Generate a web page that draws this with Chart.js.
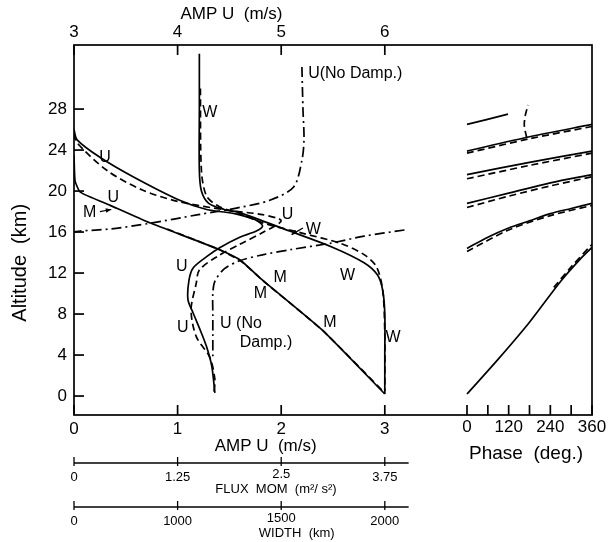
<!DOCTYPE html>
<html>
<head>
<meta charset="utf-8">
<script src="https://cdn.jsdelivr.net/npm/chart.js@4.4.1/dist/chart.umd.min.js"></script>
<style>
  body { margin: 0; background: #fff; }
  canvas { display: block; }
</style>
</head>
<body>
<canvas id="profileChart" width="612" height="542"></canvas>
<script>
// tick values
var altTicks = [0, 4, 8, 12, 16, 20, 24, 28];
var ampTicks = [0, 1, 2, 3];
var ampTopTicks = [3, 4, 5, 6];
var fluxLabels = ["0", "1.25", "2.5", "3.75"];
var widthLabels = ["0", "1000", "1500", "2000"];
var phaseTicks = [0, 60, 120, 180, 240, 300, 360];
var phaseLabels = [0, 120, 240, 360];

// profiles: [position on lower AMP U axis, altitude km]
var uSolid = [[0, 26.0], [0.03, 25.0], [0.25, 23.3], [0.57, 21.4], [1.02, 19.1], [1.28, 18.2], [1.55, 17.8],
  [1.75, 17.2], [1.82, 16.6], [1.76, 16.1], [1.6, 15.5], [1.41, 14.5], [1.28, 13.6], [1.15, 12.5],
  [1.11, 11.3], [1.10, 9.4], [1.15, 8.1], [1.22, 6.4], [1.28, 4.8], [1.33, 2.9], [1.36, 0.3]];
var uDashed = [[0, 25.6], [0.03, 24.7], [0.32, 22.0], [0.66, 20.1], [1.0, 19.0], [1.5, 18.1], [1.82, 17.7],
  [2.0, 17.1], [1.83, 16.0], [1.6, 14.8], [1.38, 13.6], [1.21, 12.3], [1.18, 11.0], [1.13, 8.4],
  [1.18, 5.8], [1.31, 3.8], [1.36, 1.6], [1.35, 0.3]];
var uNoDampTop = [[2.2, 32.1], [2.21, 28], [2.22, 25], [2.2, 23], [2.12, 20.4], [1.89, 19.1], [1.6, 18.4],
  [1.2, 17.7], [0.73, 16.85], [0.35, 16.3], [0.06, 16.1], [0, 16.0]];
var uNoDampLow = [[3.19, 16.2], [2.8, 15.6], [2.47, 14.9], [2.1, 14.3], [1.83, 13.8], [1.6, 13.2],
  [1.45, 12.4], [1.36, 11.2], [1.34, 10.0], [1.34, 8.0], [1.34, 6.0], [1.34, 3.8]];
var wSolid = [[1.21, 33.4], [1.21, 28], [1.21, 22], [1.23, 20], [1.3, 18.8], [1.45, 18.2], [1.6, 17.9],
  [2.08, 16.1], [2.5, 14.5], [2.8, 13.0], [2.93, 11.8], [2.98, 10.3], [3.0, 8], [3.0, 4], [3.0, 0.2]];
var wDashed = [[1.22, 30], [1.23, 22], [1.28, 19.5], [1.4, 18.5], [1.6, 17.8], [1.82, 16.9], [2.2, 15.9],
  [2.57, 14.9], [2.8, 13.8], [2.92, 12.6], [2.98, 10.3], [3.0, 6], [3.0, 0.5]];
var mSolid = [[0, 23.5], [0.01, 21], [0.06, 19.9], [0.35, 18.6], [0.73, 16.9], [1.38, 14.4], [1.6, 13.3],
  [1.82, 11.3], [2.4, 6.4], [3.0, 0.2]];
var mDashed = [[0.9, 16.3], [1.42, 14.2], [1.62, 13.1], [1.83, 11.2], [2.4, 6.4], [3.0, 0.3]];

// phase lines: [phase deg, altitude km]
var phase1 = [[0, 0.2], [90, 3.6], [180, 7.2], [270, 11.2], [330, 13.5], [360, 14.5]];
var phase2 = [[0, 14.4], [60, 15.5], [120, 16.4], [180, 17.1], [240, 17.8], [300, 18.3], [360, 18.8]];
var phase3 = [[0, 18.8], [120, 19.8], [240, 20.8], [360, 21.6]];
var phase4 = [[0, 21.6], [180, 22.8], [360, 23.9]];
var phase5 = [[0, 23.9], [180, 25.3], [360, 26.5]];
var phase6 = [[0, 26.5], [118, 27.5]];
var phase1d = [[250, 10.6], [300, 12.6], [360, 14.8]];
var phase2d = [[0, 14.1], [120, 16.2], [240, 17.6], [360, 18.6]];
var phase3d = [[0, 18.4], [120, 19.5], [240, 20.5], [360, 21.4]];
var phase4d = [[0, 21.2], [180, 22.5], [360, 23.7]];
var phase5d = [[0, 23.7], [180, 25.1], [360, 26.3]];
var phaseKink = [[172, 25.2], [165, 26.4], [168, 27.4], [176, 28.4]];

function pts(arr) {
  return arr.map(function (p) { return { x: p[0], y: p[1] }; });
}

function line(arr, dash, axis, tension) {
  return {
    data: pts(arr),
    xAxisID: axis || "x",
    showLine: true,
    borderColor: "#000",
    borderWidth: 1.7,
    borderDash: dash || [],
    pointRadius: 0,
    tension: tension === undefined ? 0.3 : tension,
    fill: false
  };
}

var DASH = [7, 4];
var DASHDOT = [10, 4, 2, 4];

var curveLabels = [
  ["W", 1.31, 27.7], ["U", 0.30, 23.3], ["U", 0.38, 19.4], ["M", 0.15, 17.9],
  ["U", 2.06, 17.7], ["W", 2.31, 16.2], ["W", 2.64, 11.8], ["M", 1.99, 11.6],
  ["M", 1.80, 10.0], ["M", 2.47, 7.2], ["W", 3.08, 5.7], ["U", 1.04, 12.6], ["U", 1.05, 6.7]
];

var frame = {
  id: "frame",
  afterDraw: function (chart) {
    var c = chart.ctx, a = chart.chartArea;
    var sx = chart.scales.x, sy = chart.scales.y, sp = chart.scales.xp, st = chart.scales.xt;
    c.save();
    c.strokeStyle = "#000";
    c.fillStyle = "#000";
    c.lineWidth = 1.7;
    c.strokeRect(a.left, a.top, a.right - a.left, a.bottom - a.top);

    c.font = "17px 'Liberation Sans', Arial, sans-serif";
    // altitude ticks
    c.textAlign = "right";
    c.textBaseline = "middle";
    altTicks.forEach(function (v) {
      var y = sy.getPixelForValue(v);
      c.beginPath(); c.moveTo(a.left, y); c.lineTo(a.left + 10, y); c.stroke();
      c.fillText(String(v), a.left - 7, y);
    });
    // top amp axis
    c.textAlign = "center";
    ampTopTicks.forEach(function (v) {
      var x = st.getPixelForValue(v);
      c.beginPath(); c.moveTo(x, a.top); c.lineTo(x, a.top + 10); c.stroke();
      c.fillText(String(v), x, a.top - 13);
    });
    c.fillText("AMP U  (m/s)", st.getPixelForValue(4.52), a.top - 31);
    // bottom amp axis
    ampTicks.forEach(function (v) {
      var x = sx.getPixelForValue(v);
      c.beginPath(); c.moveTo(x, a.bottom); c.lineTo(x, a.bottom - 10); c.stroke();
      c.fillText(String(v), x, a.bottom + 14);
    });
    c.fillText("AMP U  (m/s)", sx.getPixelForValue(1.85), a.bottom + 31);
    // phase axis
    phaseTicks.forEach(function (v) {
      var x = sp.getPixelForValue(v);
      c.beginPath(); c.moveTo(x, a.bottom); c.lineTo(x, a.bottom - 10); c.stroke();
    });
    phaseLabels.forEach(function (v) {
      c.fillText(String(v), sp.getPixelForValue(v), a.bottom + 12);
    });
    c.font = "19px 'Liberation Sans', Arial, sans-serif";
    c.fillText("Phase  (deg.)", sp.getPixelForValue(170), a.bottom + 39);

    // altitude title
    c.save();
    c.translate(20, sy.getPixelForValue(13));
    c.rotate(-Math.PI / 2);
    c.font = "20px 'Liberation Sans', Arial, sans-serif";
    c.fillText("Altitude  (km)", 0, 0);
    c.restore();

    // extra lower axes: flux and width
    c.lineWidth = 1.3;
    c.font = "13px 'Liberation Sans', Arial, sans-serif";
    [[48, fluxLabels, "FLUX  MOM  (m\u00b2/ s\u00b2)", 1.95], [92, widthLabels, "WIDTH  (km)", 2.15]].forEach(function (ax) {
      var y = a.bottom + ax[0];
      c.beginPath(); c.moveTo(sx.getPixelForValue(0), y); c.lineTo(sx.getPixelForValue(3.23), y); c.stroke();
      ampTicks.forEach(function (v, i) {
        var x = sx.getPixelForValue(v);
        c.beginPath(); c.moveTo(x, y - 6); c.lineTo(x, y + 3); c.stroke();
        c.fillText(ax[1][i], x, y + (i === 2 ? 11 : 14));
      });
      c.fillText(ax[2], sx.getPixelForValue(ax[3]), y + 26);
    });

    // curve labels
    c.font = "16px 'Liberation Sans', Arial, sans-serif";
    curveLabels.forEach(function (l) {
      c.fillText(l[0], sx.getPixelForValue(l[1]), sy.getPixelForValue(l[2]));
    });
    c.textAlign = "left";
    c.fillText("U(No Damp.)", sx.getPixelForValue(2.26), sy.getPixelForValue(31.5));
    c.fillText("U (No", sx.getPixelForValue(1.41), sy.getPixelForValue(7.1));
    c.fillText("Damp.)", sx.getPixelForValue(1.60), sy.getPixelForValue(5.2));

    // arrows from M and W labels
    c.lineWidth = 1.2;
    [[0.25, 18.0, 0.36, 18.2], [2.21, 16.4, 2.10, 15.75]].forEach(function (ar) {
      var x1 = sx.getPixelForValue(ar[0]), y1 = sy.getPixelForValue(ar[1]);
      var x2 = sx.getPixelForValue(ar[2]), y2 = sy.getPixelForValue(ar[3]);
      var ang = Math.atan2(y2 - y1, x2 - x1);
      c.beginPath(); c.moveTo(x1, y1); c.lineTo(x2, y2); c.stroke();
      c.beginPath();
      c.moveTo(x2, y2);
      c.lineTo(x2 - 6 * Math.cos(ang - 0.4), y2 - 6 * Math.sin(ang - 0.4));
      c.lineTo(x2 - 6 * Math.cos(ang + 0.4), y2 - 6 * Math.sin(ang + 0.4));
      c.closePath(); c.fill();
    });
    c.restore();
  }
};

var ctx = document.getElementById("profileChart").getContext("2d");
var profileChart = new Chart(ctx, {
  type: "scatter",
  data: {
    datasets: [
      line(uSolid), line(uDashed, DASH),
      line(uNoDampTop, DASHDOT), line(uNoDampLow, DASHDOT),
      line(wSolid), line(wDashed, DASH),
      line(mSolid, [], "x", 0.15), line(mDashed, DASH, "x", 0.15),
      line(phase1, [], "xp"), line(phase2, [], "xp"), line(phase3, [], "xp"),
      line(phase4, [], "xp"), line(phase5, [], "xp"), line(phase6, [], "xp"),
      line(phase1d, DASH, "xp"), line(phase2d, DASH, "xp"), line(phase3d, DASH, "xp"),
      line(phase4d, DASH, "xp"), line(phase5d, DASH, "xp"), line(phaseKink, DASH, "xp")
    ]
  },
  options: {
    responsive: false,
    animation: false,
    layout: { padding: { left: 74, right: 20, top: 45, bottom: 127 } },
    plugins: { legend: { display: false }, tooltip: { enabled: false } },
    scales: {
      x: { type: "linear", min: 0, max: 5, display: false },
      xt: { type: "linear", min: 3, max: 8, display: false },
      xp: { type: "linear", min: -1131.8, max: 360, display: false },
      y: { type: "linear", min: -1.85, max: 34.25, display: false }
    }
  },
  plugins: [frame]
});
</script>
</body>
</html>
